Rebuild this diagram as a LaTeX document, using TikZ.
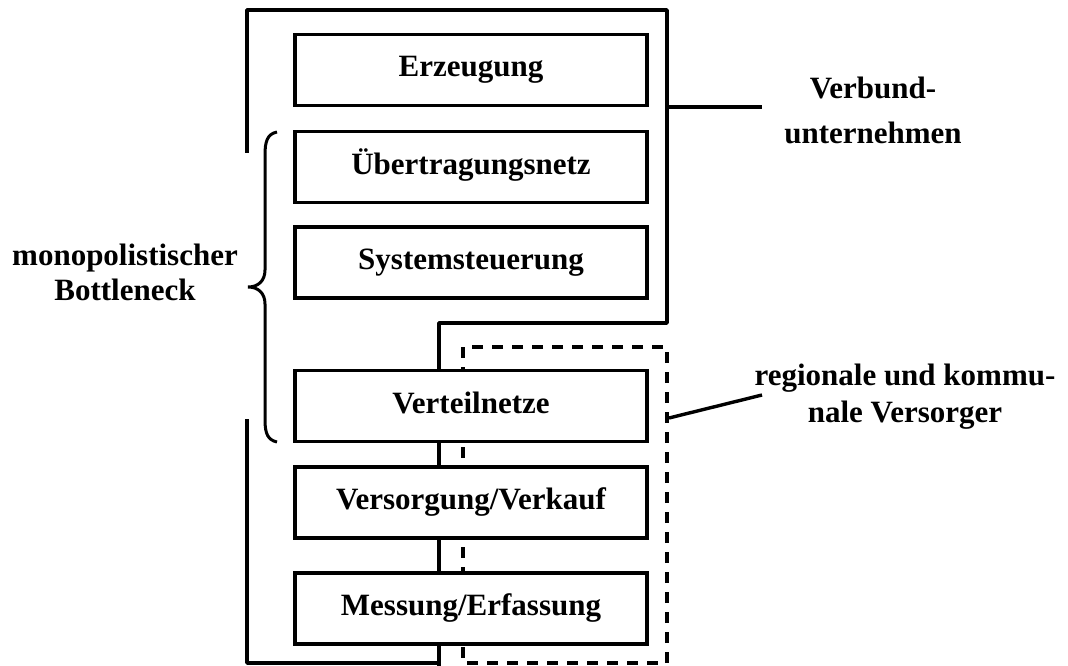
\documentclass[tikz,border=0pt]{standalone}
\usepackage{fontspec}
\setmainfont{Liberation Serif}
\begin{document}
\begin{tikzpicture}[x=1pt,y=-1pt,line width=3.4pt,
  stage/.style={draw,fill=white,minimum width=352pt,minimum height=71pt,inner sep=0pt,
    text height=21pt,text depth=7pt,font=\fontsize{31}{35}\selectfont\bfseries},
  lbl/.style={align=center,inner sep=0pt},
  grp/.style={line join=round},
  dsh/.style={dash pattern=on 11pt off 9pt}]
\useasboundingbox[fill=white] (0,0) rectangle (1068,666);
% group outlines (behind boxes)
\draw[grp] (247,153) -- (247,10) -- (667,10) -- (667,323) -- (439,323) -- (439,666);
\draw[grp] (247,419) -- (247,663) -- (439,663);
\draw[dsh] (463,347) rectangle (667,663);
% stages
\node[stage] (erz) at (471,70) {Erzeugung};
\node[stage] (uen) at (471,167) {Übertragungsnetz};
\node[stage] (sys) at (471,262.5) {Systemsteuerung};
\node[stage] (vtn) at (471,406) {Verteilnetze};
\node[stage] (vvk) at (471,502.5) {Versorgung/Verkauf};
\node[stage] (mes) at (471,608.5) {Messung/Erfassung};
% brace
\draw[line width=3pt] (277,132) .. controls (267,134) and (265,142) .. (265,155) -- (265,270)
  .. controls (265,281) and (258,287) .. (248,287)
  .. controls (258,287) and (265,293) .. (265,304) -- (265,420)
  .. controls (265,434) and (268,440) .. (277,442);
% labels
\node[lbl,font=\fontsize{31}{35}\selectfont\bfseries] (mono) at (125,272) {monopolistischer\\Bottleneck};
\node[lbl,font=\fontsize{31}{45}\selectfont\bfseries] (verb) at (873,110) {Verbund-\\unternehmen};
\node[lbl,font=\fontsize{31}{37}\selectfont\bfseries] (reg) at (905,397) {regionale und kommu-\\nale Versorger};
% connectors
\coordinate (vbA) at (667,107);
\coordinate (vbB) at (762,107);
\coordinate (rgA) at (669,418);
\coordinate (rgB) at (762,395);
\draw (vbA) -- (vbB);
\draw (rgA) -- (rgB);
\end{tikzpicture}
\end{document}
